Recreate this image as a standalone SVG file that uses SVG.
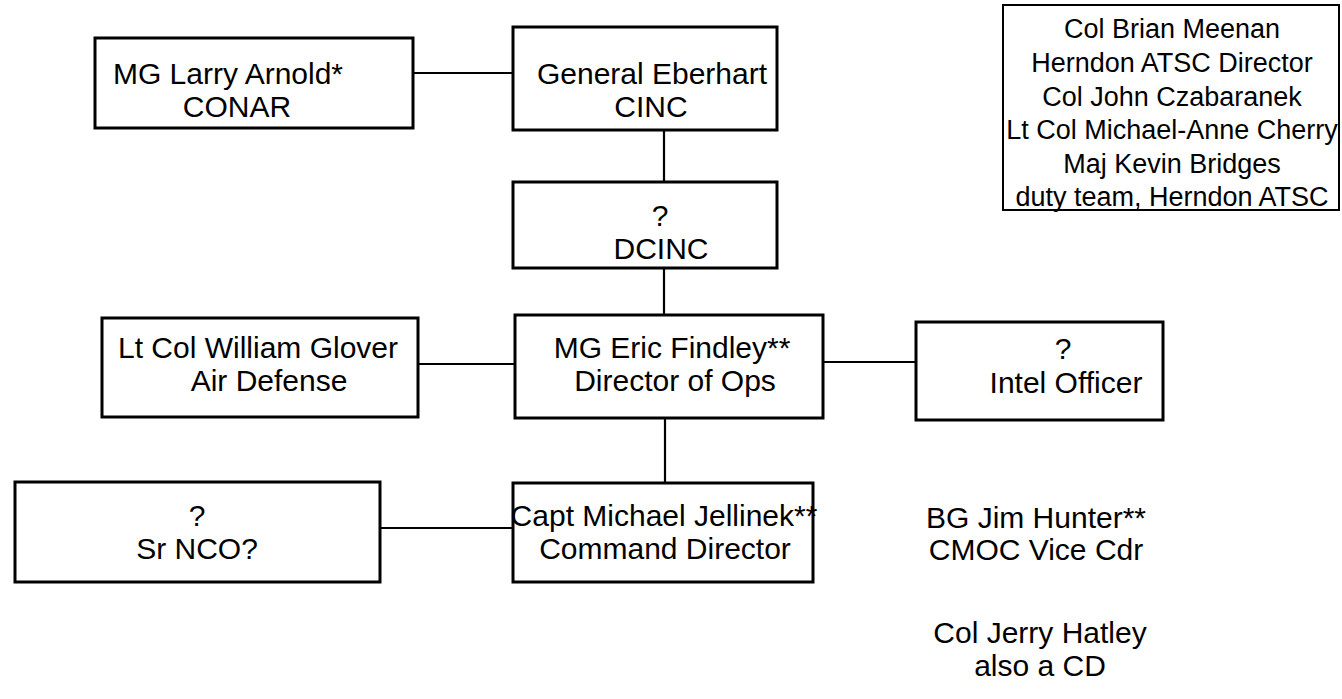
<svg xmlns="http://www.w3.org/2000/svg" width="1342" height="699" viewBox="0 0 1342 699">
<style>
.box{fill:#fff;stroke:#000;stroke-width:3}
.c{stroke:#000;stroke-width:2.2;fill:none}
text{font-family:"Liberation Sans",Arial,sans-serif;font-size:30px;fill:#000;text-anchor:middle}
.s{font-size:27px}
</style>
<rect width="1342" height="699" fill="#fff"/>
<g id="connectors">
<line class="c" x1="413" y1="73" x2="513" y2="73"/>
<line class="c" x1="664" y1="130" x2="664" y2="182"/>
<line class="c" x1="664" y1="268" x2="664" y2="315"/>
<line class="c" x1="418" y1="364" x2="515" y2="364"/>
<line class="c" x1="823" y1="362" x2="916" y2="362"/>
<line class="c" x1="665" y1="418" x2="665" y2="483"/>
<line class="c" x1="380" y1="528" x2="513" y2="528"/>
</g>
<g id="arnold"><rect class="box" x="95" y="38" width="318" height="90"/><text x="228" y="84">MG Larry Arnold*</text><text x="237" y="117">CONAR</text></g>
<g id="eberhart"><rect class="box" x="513" y="27" width="264" height="103"/><text x="652" y="84">General Eberhart</text><text x="651" y="117">CINC</text></g>
<g id="dcinc"><rect class="box" x="513" y="182" width="264" height="86"/><text x="660" y="226">?</text><text x="661" y="259">DCINC</text></g>
<g id="findley"><rect class="box" x="515" y="315" width="308" height="103"/><text x="672" y="358">MG Eric Findley**</text><text x="675" y="391">Director of Ops</text></g>
<g id="glover"><rect class="box" x="102" y="318" width="316" height="99"/><text x="258" y="358">Lt Col William Glover</text><text x="269" y="391">Air Defense</text></g>
<g id="intel"><rect class="box" x="916" y="322" width="247" height="98"/><text x="1063" y="359">?</text><text x="1066" y="393">Intel Officer</text></g>
<g id="jellinek"><rect class="box" x="513" y="483" width="300" height="99"/><text x="664" y="526">Capt Michael Jellinek**</text><text x="665" y="559">Command Director</text></g>
<g id="srnco"><rect class="box" x="15" y="482" width="365" height="100"/><text x="197" y="526">?</text><text x="197" y="559">Sr NCO?</text></g>
<g id="hunter"><text x="1036" y="528">BG Jim Hunter**</text><text x="1036" y="560">CMOC Vice Cdr</text></g>
<g id="hatley"><text x="1040" y="643">Col Jerry Hatley</text><text x="1040" y="676">also a CD</text></g>
<g id="atsc"><rect x="1003" y="5" width="336" height="205" fill="#fff" stroke="#000" stroke-width="2"/>
<text class="s" x="1172" y="38">Col Brian Meenan</text>
<text class="s" x="1172" y="72">Herndon ATSC Director</text>
<text class="s" x="1172" y="106">Col John Czabaranek</text>
<text class="s" x="1172" y="139">Lt Col Michael-Anne Cherry</text>
<text class="s" x="1172" y="173">Maj Kevin Bridges</text>
<text class="s" x="1172" y="206">duty team, Herndon ATSC</text>
</g>
</svg>
